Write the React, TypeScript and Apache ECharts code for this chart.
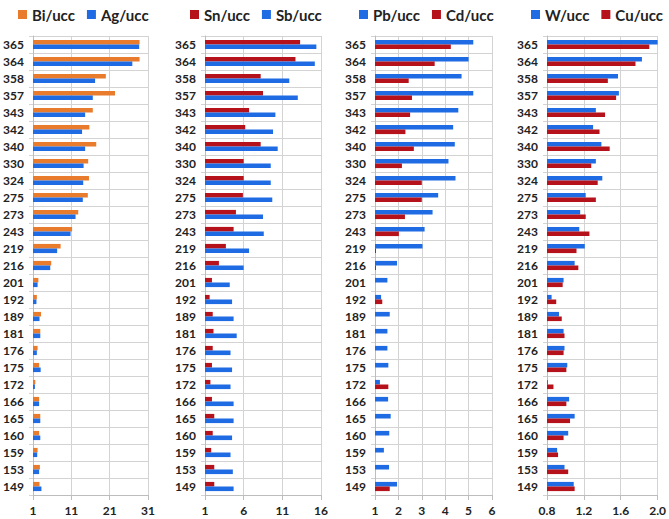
import React, { useEffect, useRef } from 'react';
import * as echarts from 'echarts';

const categories = ['365', '364', '358', '357', '343', '342', '340', '330', '324', '275', '273', '243', '219', '216', '201', '192', '189', '181', '176', '175', '172', '166', '165', '160', '159', '153', '149'];

const bi = [28.8, 28.8, 20.0, 22.4, 16.6, 15.7, 17.5, 15.4, 15.6, 15.3, 12.8, 11.2, 8.2, 5.75, 2.4, 2.0, 3.1, 2.9, 2.2, 2.6, 1.6, 2.6, 2.9, 2.6, 2.2, 2.8, 2.7];
const ag = [28.7, 26.9, 17.2, 16.6, 14.6, 13.8, 14.6, 14.2, 14.1, 14.0, 12.1, 10.8, 7.3, 5.5, 2.2, 1.9, 2.7, 2.9, 2.0, 3.0, 1.5, 2.6, 2.9, 2.9, 2.1, 2.6, 3.2];
const sn = [13.3, 12.7, 8.2, 8.5, 6.7, 6.2, 8.2, 6.0, 6.0, 5.9, 5.0, 4.7, 3.7, 2.8, 1.9, 1.6, 2.0, 2.1, 2.0, 1.9, 1.7, 1.9, 2.2, 2.0, 1.8, 2.2, 2.2];
const sb = [15.4, 15.2, 11.9, 13.0, 10.1, 9.8, 10.4, 9.5, 9.5, 9.7, 8.5, 8.6, 6.7, 6.0, 4.2, 4.5, 4.7, 5.1, 4.3, 4.5, 4.3, 4.7, 4.7, 4.5, 4.3, 4.6, 4.7];
const pb = [5.2, 5.0, 4.7, 5.2, 4.56, 4.34, 4.41, 4.14, 4.44, 3.7, 3.46, 3.12, 3.03, 1.94, 1.53, 1.26, 1.63, 1.53, 1.53, 1.57, 1.21, 1.56, 1.67, 1.61, 1.38, 1.6, 1.94];
const cd = [4.24, 3.55, 2.44, 2.58, 2.5, 2.3, 2.66, 2.15, 3.0, 3.0, 2.28, 2.02, 1.04, 1.04, 0.9, 1.31, 0.9, 0.9, 0.9, 0.9, 1.57, 0.9, 0.9, 0.9, 0.9, 0.9, 1.63];
const w = [2.0, 1.83, 1.57, 1.58, 1.33, 1.30, 1.39, 1.33, 1.40, 1.22, 1.16, 1.15, 1.21, 1.10, 0.98, 0.85, 0.93, 0.98, 0.99, 1.02, 0.81, 1.04, 1.10, 1.03, 0.91, 0.99, 1.09];
const cu = [1.91, 1.76, 1.46, 1.55, 1.43, 1.37, 1.48, 1.28, 1.35, 1.33, 1.22, 1.26, 1.12, 1.14, 0.97, 0.90, 0.96, 0.99, 0.98, 1.01, 0.87, 1.01, 1.05, 0.98, 0.92, 1.03, 1.10];

const xMins = [1, 1, 1, 0.8];
const xMaxs = [31, 16, 6, 2.0];
const xIntervals = [10, 5, 1, 0.4];

const ORANGE = '#E97B2C';
const BLUE = '#1F6BE3';
const RED = '#B5121B';

const panels = [
  { names: ['Bi/ucc', 'Ag/ucc'], data: [bi, ag], colors: [ORANGE, BLUE] },
  { names: ['Sn/ucc', 'Sb/ucc'], data: [sn, sb], colors: [RED, BLUE] },
  { names: ['Pb/ucc', 'Cd/ucc'], data: [pb, cd], colors: [BLUE, RED] },
  { names: ['W/ucc', 'Cu/ucc'], data: [w, cu], colors: [BLUE, RED] },
];

const gridBoxes = [
  { left: 33, width: 115 },
  { left: 205, width: 116 },
  { left: 375, width: 117 },
  { left: 547, width: 111 },
];
const legendLefts = [18, 190, 359, 531];

const FONT = 'Lato, "Open Sans", sans-serif';

export default function App() {
  const ref = useRef<HTMLDivElement>(null);
  useEffect(() => {
    if (!ref.current) return;
    const chart = echarts.init(ref.current, null, { renderer: 'svg' });
    const grid: any[] = [];
    const xAxis: any[] = [];
    const yAxis: any[] = [];
    const legend: any[] = [];
    const series: any[] = [];
    panels.forEach((p, i) => {
      grid.push({ left: gridBoxes[i].left, width: gridBoxes[i].width, top: 36, height: 459, containLabel: false });
      xAxis.push({
        type: 'value',
        gridIndex: i,
        min: xMins[i],
        max: xMaxs[i],
        interval: xIntervals[i],
        axisLine: { show: true, lineStyle: { color: '#BDBDBD', width: 1 } },
        axisTick: { show: true, length: 5, lineStyle: { color: '#BDBDBD' } },
        splitLine: { show: true, lineStyle: { color: '#D3D3D3', width: 1 } },
        axisLabel: {
          margin: 9,
          color: '#222',
          fontWeight: 'bold',
          fontSize: 12,
          fontFamily: FONT,
          formatter: (v: number) => (i === 3 ? v.toFixed(1) : String(Math.round(v))),
        },
      });
      yAxis.push({
        type: 'category',
        gridIndex: i,
        inverse: true,
        data: categories,
        axisLine: { show: true, lineStyle: { color: '#BDBDBD', width: 1 } },
        axisTick: { show: true, length: 4, lineStyle: { color: '#D3D3D3' } },
        splitLine: { show: true, lineStyle: { color: '#D3D3D3', width: 1 } },
        axisLabel: {
          margin: 9,
          color: '#222',
          fontWeight: 'bold',
          fontSize: 12,
          fontFamily: FONT,
        },
      });
      legend.push({
        left: legendLefts[i],
        top: 7,
        data: p.names,
        icon: 'rect',
        itemWidth: 9,
        itemHeight: 9,
        itemGap: 12,
        padding: 0,
        textStyle: { fontWeight: 'bold', fontSize: 15, color: '#222', fontFamily: FONT },
      });
      p.names.forEach((n, j) => {
        series.push({
          type: 'bar',
          name: n,
          xAxisIndex: i,
          yAxisIndex: i,
          data: p.data[j],
          barGap: '0%',
          barCategoryGap: '46%',
          clip: true,
          itemStyle: { color: p.colors[j] },
          emphasis: { disabled: true },
        });
      });
    });
    chart.setOption({
      animation: false,
      backgroundColor: '#ffffff',
      grid,
      xAxis,
      yAxis,
      legend,
      series,
    });
    return () => chart.dispose();
  }, []);
  return <div ref={ref} style={{ position: 'absolute', left: 0, top: 0, width: 669, height: 519 }} />;
}
